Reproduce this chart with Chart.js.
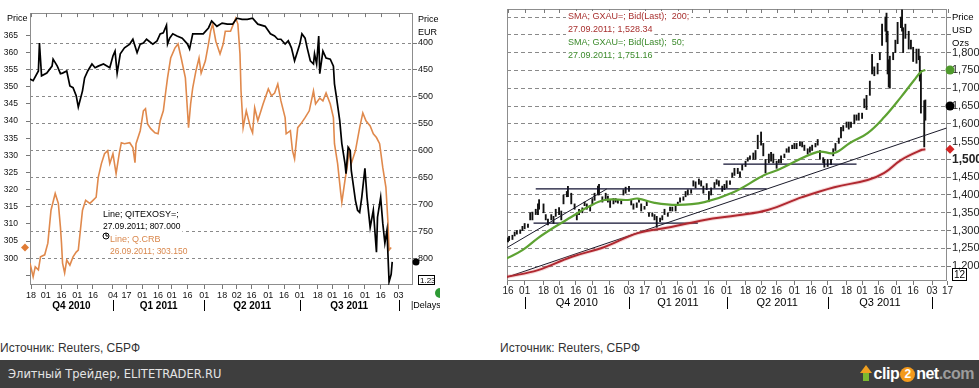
<!DOCTYPE html>
<html>
<head>
<meta charset="utf-8">
<script src="https://cdn.jsdelivr.net/npm/chart.js@4.4.1/dist/chart.umd.min.js"></script>
<style>
  html, body { margin:0; padding:0; background:#fff; }
  body { width:979px; height:388px; position:relative; overflow:hidden; font-family:"Liberation Sans", Arial, sans-serif; }
  #c1 { position:absolute; left:0; top:0; }
  #c2 { position:absolute; left:495px; top:0; }
  .src { position:absolute; top:340px; font-size:12px; color:#333; line-height:16px; white-space:nowrap; }
  #footer { position:absolute; left:0; top:360px; width:979px; height:28px; background:#3e3e3e; }
  #footer .t { position:absolute; left:8px; top:7px; font-family:"DejaVu Sans", Verdana, sans-serif; font-size:11.5px; color:#e4e4e4; white-space:nowrap; }
  #logo { position:absolute; right:5px; top:5px; font-family:"Liberation Sans", Arial, sans-serif; font-weight:bold; font-size:16px; letter-spacing:-0.5px; white-space:nowrap; }
  #logo .arr { display:inline-block; position:relative; width:12px; height:16px; vertical-align:-2px; margin-right:2px; }
  #logo .arr:before { content:""; position:absolute; left:0; top:0; border-left:6px solid transparent; border-right:6px solid transparent; border-bottom:8px solid #f0a020; }
  #logo .arr:after { content:""; position:absolute; left:3px; top:8px; width:6px; height:8px; background:#7cb82f; }
  #logo .two { display:inline-block; width:15px; height:15px; border-radius:8px; background:#f39a1c; color:#fff; text-align:center; line-height:15px; font-size:12px; vertical-align:1px; margin:0 1px; }
</style>
</head>
<body>
<canvas id="c1" width="440" height="320" style="width:440px;height:320px"></canvas>
<canvas id="c2" width="484" height="320" style="width:484px;height:320px"></canvas>
<div class="src" style="left:0">Источник: Reuters, СБРФ</div>
<div class="src" style="left:500px">Источник: Reuters, СБРФ</div>
<div id="footer"><span class="t">Элитный Трейдер, ELITETRADER.RU</span>
<span id="logo"><span class="arr"></span><span style="color:#fff">clip</span><span class="two">2</span><span style="color:#fff">net</span><span style="color:#9c9c9c">.com</span></span></div>

<script>
// ================= LEFT CHART DATA (CRB vs iTraxx Crossover) =================
const leftTickDates = ['2010-10-18','2010-11-01','2010-11-16','2010-12-01','2010-12-16','2011-01-04','2011-01-17','2011-02-01','2011-02-16','2011-03-01','2011-03-16','2011-04-01','2011-04-18','2011-05-02','2011-05-16','2011-06-01','2011-06-16','2011-07-01','2011-07-18','2011-08-01','2011-08-16','2011-09-01','2011-09-16','2011-10-03'];
const leftQuarterStarts = ['2011-01-04','2011-04-01','2011-07-01','2011-10-03'];
const leftQuarterLabels = ['Q4 2010','Q1 2011','Q2 2011','Q3 2011'];
const crbAxisTicks = [295,300,305,310,315,320,325,330,335,340,345,350,355,360,365];
const eurAxisTicks = [400,450,500,550,600,650,700,750,800];

const crbDates = ['2010-10-17','2010-10-20','2010-10-22','2010-10-25','2010-10-27','2010-10-31','2010-11-03','2010-11-06','2010-11-10','2010-11-13','2010-11-15','2010-11-16','2010-11-17','2010-11-19','2010-11-21','2010-11-24','2010-11-27','2010-11-30','2010-12-02','2010-12-04','2010-12-06','2010-12-09','2010-12-13','2010-12-16','2010-12-19','2010-12-21','2010-12-24','2010-12-27','2010-12-30','2011-01-01','2011-01-04','2011-01-07','2011-01-10','2011-01-12','2011-01-15','2011-01-20','2011-01-23','2011-01-25','2011-01-26','2011-01-30','2011-02-02','2011-02-04','2011-02-06','2011-02-09','2011-02-13','2011-02-16','2011-02-18','2011-02-21','2011-02-23','2011-02-25','2011-02-28','2011-03-04','2011-03-07','2011-03-10','2011-03-14','2011-03-16','2011-03-17','2011-03-19','2011-03-21','2011-03-24','2011-03-27','2011-03-29','2011-04-02','2011-04-05','2011-04-07','2011-04-09','2011-04-12','2011-04-16','2011-04-19','2011-04-21','2011-04-26','2011-05-01','2011-05-03','2011-05-05','2011-05-06','2011-05-08','2011-05-11','2011-05-15','2011-05-17','2011-05-19','2011-05-22','2011-05-25','2011-05-27','2011-06-01','2011-06-04','2011-06-07','2011-06-10','2011-06-13','2011-06-17','2011-06-18','2011-06-22','2011-06-24','2011-06-26','2011-06-29','2011-07-02','2011-07-06','2011-07-10','2011-07-14','2011-07-16','2011-07-20','2011-07-23','2011-07-26','2011-07-30','2011-08-02','2011-08-03','2011-08-06','2011-08-09','2011-08-10','2011-08-13','2011-08-15','2011-08-17','2011-08-19','2011-08-23','2011-08-27','2011-08-30','2011-09-02','2011-09-06','2011-09-09','2011-09-12','2011-09-15','2011-09-18','2011-09-21','2011-09-23','2011-09-24','2011-09-26'];
const crbValues = [298.6,294.6,297.5,296.6,300.4,301,304.4,314,318.9,316,309,304.4,298.6,295.7,299.5,298,300.4,301.8,302.4,308.2,314,316.9,316,316.9,317.8,323.6,327.6,330.5,331.4,327.6,330.5,324.7,330.5,333.7,333.4,333.7,332.3,327.9,333.4,337.2,343,343.6,339.2,337.8,336.6,336.3,340.1,343,347.9,352.6,358.4,361.3,362.5,358.4,352.6,343,338.1,345,349.7,354.6,358.4,354,357.5,362.5,366.2,368.3,363.3,359.6,362.5,366.2,366.2,370,368.3,359.6,348.8,338.1,343,338.1,336.6,343.9,340.1,343,345,349.4,347.4,348.2,350.8,345.9,341,336.3,337.2,331.4,329,338.1,339.2,341,343,348.8,345,346.7,345.9,348.2,345,341,333.4,327.6,318.9,316.3,322.7,326.5,331.4,327.6,331.4,338.1,342.4,340.1,338.6,336.3,335.2,333.4,326.5,320.7,310.2,302.4,303.15];

const xoverDates = ['2010-10-17','2010-10-20','2010-10-25','2010-10-26','2010-10-28','2010-11-02','2010-11-07','2010-11-08','2010-11-12','2010-11-15','2010-11-17','2010-11-21','2010-11-24','2010-11-27','2010-11-30','2010-12-02','2010-12-06','2010-12-08','2010-12-11','2010-12-15','2010-12-18','2010-12-21','2010-12-26','2011-01-01','2011-01-04','2011-01-06','2011-01-08','2011-01-11','2011-01-15','2011-01-20','2011-01-23','2011-01-27','2011-01-30','2011-02-02','2011-02-05','2011-02-11','2011-02-15','2011-02-18','2011-02-21','2011-02-24','2011-02-25','2011-02-27','2011-03-02','2011-03-06','2011-03-11','2011-03-16','2011-03-18','2011-03-21','2011-03-26','2011-03-31','2011-04-05','2011-04-08','2011-04-13','2011-04-18','2011-04-23','2011-04-28','2011-05-02','2011-05-07','2011-05-12','2011-05-17','2011-05-22','2011-05-29','2011-06-03','2011-06-07','2011-06-10','2011-06-13','2011-06-17','2011-06-20','2011-06-23','2011-06-26','2011-07-01','2011-07-03','2011-07-06','2011-07-08','2011-07-11','2011-07-14','2011-07-15','2011-07-17','2011-07-19','2011-07-20','2011-07-23','2011-07-26','2011-07-30','2011-08-02','2011-08-03','2011-08-05','2011-08-08','2011-08-10','2011-08-13','2011-08-14','2011-08-16','2011-08-18','2011-08-19','2011-08-23','2011-08-25','2011-08-27','2011-08-29','2011-09-01','2011-09-03','2011-09-06','2011-09-09','2011-09-12','2011-09-13','2011-09-16','2011-09-18','2011-09-20','2011-09-22','2011-09-24','2011-09-26','2011-09-27'];
const xoverValues = [467,470,452,400,461,456,443,430,443,457,456,452,480,483,498,519,489,465,452,439,446,443,439,446,424,415,456,420,409,402,393,418,402,400,393,402,396,383,381,367,402,391,383,387,391,402,411,383,383,383,372,359,369,363,365,365,354,356,356,354,365,369,383,387,393,393,402,396,409,433,402,383,391,409,433,439,420,439,387,457,415,428,430,443,476,502,544,587,624,643,594,600,637,693,711,715,687,633,687,743,711,789,724,687,735,772,748,844,830,807];

// ================= RIGHT CHART DATA (Gold, GXAU=) =================
const rightTickDates = ['2010-09-16','2010-10-01','2010-10-18','2010-11-01','2010-11-16','2010-12-01','2010-12-16','2011-01-03','2011-01-17','2011-02-01','2011-02-16','2011-03-01','2011-03-16','2011-04-01','2011-04-18','2011-05-02','2011-05-16','2011-06-01','2011-06-16','2011-07-01','2011-07-18','2011-08-01','2011-08-16','2011-09-01','2011-09-16','2011-10-03','2011-10-17'];
const rightQuarterStarts = ['2010-10-01','2011-01-03','2011-04-01','2011-07-01','2011-10-03'];
const rightQuarterLabels = ['Q4 2010','Q1 2011','Q2 2011','Q3 2011'];
const usdAxisTicks = [1200,1250,1300,1350,1400,1450,1500,1550,1600,1650,1700,1750,1800,1850,1900];

const goldDates = ['2010-09-16','2010-09-17','2010-09-20','2010-09-22','2010-09-24','2010-09-27','2010-09-29','2010-10-01','2010-10-04','2010-10-06','2010-10-08','2010-10-11','2010-10-13','2010-10-14','2010-10-18','2010-10-20','2010-10-22','2010-10-25','2010-10-27','2010-10-29','2010-11-01','2010-11-03','2010-11-05','2010-11-08','2010-11-09','2010-11-12','2010-11-15','2010-11-17','2010-11-19','2010-11-22','2010-11-24','2010-11-26','2010-11-29','2010-12-01','2010-12-03','2010-12-06','2010-12-07','2010-12-10','2010-12-13','2010-12-15','2010-12-17','2010-12-20','2010-12-22','2010-12-24','2010-12-27','2010-12-29','2010-12-31','2011-01-03','2011-01-05','2011-01-07','2011-01-10','2011-01-12','2011-01-14','2011-01-17','2011-01-19','2011-01-21','2011-01-24','2011-01-26','2011-01-28','2011-01-31','2011-02-02','2011-02-04','2011-02-07','2011-02-09','2011-02-11','2011-02-14','2011-02-16','2011-02-18','2011-02-21','2011-02-23','2011-02-25','2011-02-28','2011-03-02','2011-03-04','2011-03-07','2011-03-09','2011-03-11','2011-03-14','2011-03-16','2011-03-18','2011-03-21','2011-03-23','2011-03-25','2011-03-28','2011-03-30','2011-04-01','2011-04-04','2011-04-06','2011-04-08','2011-04-11','2011-04-13','2011-04-15','2011-04-18','2011-04-20','2011-04-22','2011-04-25','2011-04-27','2011-04-29','2011-05-02','2011-05-04','2011-05-06','2011-05-09','2011-05-11','2011-05-13','2011-05-16','2011-05-18','2011-05-20','2011-05-23','2011-05-25','2011-05-27','2011-05-30','2011-06-01','2011-06-03','2011-06-06','2011-06-08','2011-06-10','2011-06-13','2011-06-15','2011-06-17','2011-06-20','2011-06-22','2011-06-24','2011-06-27','2011-06-28','2011-07-01','2011-07-04','2011-07-06','2011-07-08','2011-07-11','2011-07-13','2011-07-15','2011-07-18','2011-07-20','2011-07-22','2011-07-25','2011-07-27','2011-07-29','2011-08-01','2011-08-03','2011-08-05','2011-08-08','2011-08-10','2011-08-12','2011-08-15','2011-08-17','2011-08-19','2011-08-22','2011-08-23','2011-08-24','2011-08-25','2011-08-26','2011-08-29','2011-08-31','2011-09-02','2011-09-05','2011-09-06','2011-09-07','2011-09-09','2011-09-12','2011-09-14','2011-09-16','2011-09-19','2011-09-21','2011-09-22','2011-09-23','2011-09-26','2011-09-27'];
const goldLow = [1268,1272,1275,1285,1290,1292,1300,1305,1309,1330,1330,1345,1345,1360,1350,1330,1316,1330,1320,1340,1345,1330,1375,1395,1395,1375,1360,1330,1345,1350,1370,1360,1355,1375,1385,1400,1400,1380,1385,1380,1365,1375,1380,1377,1375,1400,1405,1410,1372,1360,1365,1380,1355,1360,1370,1340,1340,1330,1309,1325,1330,1345,1340,1355,1355,1355,1370,1380,1385,1395,1400,1405,1425,1420,1430,1425,1405,1415,1381,1400,1420,1430,1425,1410,1415,1420,1430,1450,1455,1460,1450,1470,1480,1495,1500,1500,1500,1530,1540,1510,1462,1490,1495,1490,1475,1490,1490,1505,1520,1520,1530,1530,1530,1538,1535,1525,1515,1520,1525,1535,1540,1500,1490,1478,1480,1485,1510,1525,1545,1560,1580,1590,1585,1590,1600,1610,1610,1615,1645,1640,1680,1740,1735,1740,1780,1820,1860,1830,1740,1703,1700,1780,1800,1825,1870,1860,1800,1840,1810,1810,1775,1770,1780,1720,1630,1535,1610];
const goldHigh = [1280,1284,1287,1296,1300,1302,1312,1320,1318,1350,1352,1360,1375,1387,1375,1345,1332,1345,1340,1360,1365,1355,1400,1410,1424,1405,1375,1350,1360,1364,1380,1375,1370,1390,1405,1425,1430,1395,1405,1397,1385,1390,1390,1385,1385,1415,1422,1424,1385,1375,1378,1390,1375,1368,1385,1350,1350,1345,1340,1335,1342,1360,1350,1366,1366,1370,1380,1392,1395,1410,1415,1415,1440,1437,1445,1440,1425,1432,1410,1420,1435,1443,1440,1425,1430,1440,1440,1462,1475,1475,1465,1485,1495,1505,1510,1518,1525,1568,1577,1545,1500,1515,1520,1515,1495,1500,1510,1515,1530,1535,1540,1545,1545,1550,1548,1540,1530,1535,1540,1545,1556,1525,1505,1500,1500,1500,1530,1545,1560,1590,1595,1605,1605,1605,1625,1625,1630,1630,1670,1680,1720,1795,1760,1770,1800,1880,1900,1911,1860,1780,1790,1800,1835,1885,1900,1920,1870,1880,1860,1835,1815,1810,1810,1790,1750,1665,1667];

const sma50Dates = ['2010-09-15','2010-09-29','2010-10-13','2010-10-28','2010-11-12','2010-11-27','2010-12-12','2011-01-02','2011-01-11','2011-01-26','2011-02-16','2011-03-12','2011-04-06','2011-05-05','2011-05-17','2011-06-22','2011-07-07','2011-07-21','2011-08-06','2011-08-21','2011-09-05','2011-09-17','2011-09-23','2011-09-27'];
const sma50Values = [1222,1245,1279,1310,1338,1366,1386,1386,1390,1378,1372,1380,1406,1456,1470,1521,1518,1546,1574,1619,1675,1723,1746,1751.16];
const sma200Dates = ['2010-09-15','2010-10-13','2010-11-12','2010-12-12','2011-01-11','2011-02-10','2011-03-12','2011-04-11','2011-05-08','2011-06-08','2011-07-07','2011-08-06','2011-08-21','2011-09-05','2011-09-24','2011-09-27'];
const sma200Values = [1170,1189,1226,1254,1293,1310,1330,1343,1358,1394,1422,1442,1462,1498,1527,1528.34];

// analyst trend lines: [start date, end date] and [start value, end value]
const supportLongDates = ['2010-09-15','2011-10-16'];    const supportLongValues = [1169,1588];
const supportShortDates = ['2010-09-15','2010-12-14'];   const supportShortValues = [1252,1417];
const rangeTopDates = ['2010-10-11','2011-05-07'];       const rangeTopValues = [1417,1417];
const rangeBottomDates = ['2010-10-09','2011-03-06'];    const rangeBottomValues = [1321,1321];
const resistDates = ['2011-03-29','2011-07-27'];         const resistValues = [1487,1487];
const lastGoldPrice = 1650;

// ================= helpers =================
const FONT = '"Liberation Sans", Arial, sans-serif';
const NARROW = '"Liberation Sans Narrow", "Liberation Sans", Arial, sans-serif';
const day = s => Date.UTC(+s.slice(0,4), +s.slice(5,7)-1, +s.slice(8,10)) / 864e5;
const dayLabel = v => String(new Date(Math.round(v)*864e5).getUTCDate()).padStart(2,'0');
const pts = (dates, vals) => dates.map((d,i) => ({x: day(d), y: vals[i]}));
const fmt = (v, dec) => v.toLocaleString('en-US', {minimumFractionDigits:dec, maximumFractionDigits:dec});

function textBg(ctx, txt, x, y, color, font) {
  ctx.font = font;
  const w = ctx.measureText(txt).width;
  ctx.fillStyle = '#fff';
  ctx.fillRect(x - 2, y - 6, w + 4, 12);
  ctx.fillStyle = color;
  ctx.fillText(txt, x, y);
}
function diamond(ctx, x, y, r, color) {
  ctx.beginPath(); ctx.moveTo(x, y - r); ctx.lineTo(x + r, y); ctx.lineTo(x, y + r); ctx.lineTo(x - r, y); ctx.closePath();
  ctx.fillStyle = color; ctx.fill();
}
function dot(ctx, x, y, r, color) {
  ctx.beginPath(); ctx.arc(x, y, r, 0, Math.PI*2); ctx.fillStyle = color; ctx.fill();
}
function frameAndTopTicks(chart) {
  const {ctx, chartArea:a, scales:{x}} = chart;
  ctx.save();
  ctx.strokeStyle = '#8d8d8d'; ctx.lineWidth = 1;
  ctx.strokeRect(Math.round(a.left) + 0.5, Math.round(a.top) + 0.5, Math.round(a.right - a.left) - 1, Math.round(a.bottom - a.top) - 1);
  ctx.strokeStyle = '#7a7a7a';
  ctx.beginPath();
  x.ticks.forEach(t => { const px = Math.round(x.getPixelForValue(t.value)) + 0.5; ctx.moveTo(px, a.top); ctx.lineTo(px, a.top + 4); });
  ctx.stroke();
  ctx.restore();
}
function quarters(chart, starts, labels, sepTop, sepBot, labY, font) {
  const {ctx, chartArea:a, scales:{x}} = chart;
  const px = starts.map(d => x.getPixelForValue(day(d)));
  ctx.save();
  ctx.strokeStyle = '#000'; ctx.lineWidth = 1;
  ctx.beginPath();
  px.forEach(p => { const q = Math.round(p) + 0.5; ctx.moveTo(q, sepTop); ctx.lineTo(q, sepBot); });
  ctx.stroke();
  ctx.font = font; ctx.fillStyle = '#000'; ctx.textAlign = 'center'; ctx.textBaseline = 'middle';
  const edges = px.length > labels.length ? px : [a.left].concat(px);
  labels.forEach((l, i) => ctx.fillText(l, (edges[i] + edges[i+1]) / 2, labY));
  ctx.restore();
}

// ================= LEFT CHART =================
const L_MIN = day('2010-10-17'), L_MAX = L_MIN + 364.8;
const leftExtras = {
  id: 'leftExtras',
  beforeDatasetsDraw(chart) {
    frameAndTopTicks(chart);
  },
  afterDraw(chart) {
    const {ctx, scales:{yL, yR}} = chart;
    ctx.save();
    ctx.textBaseline = 'middle'; ctx.textAlign = 'left';
    const f9 = '9px ' + FONT;
    const lastX = xoverValues[xoverValues.length-1], lastC = crbValues[crbValues.length-1];
    textBg(ctx, 'Line; QITEXOSY=;', 103, 215, '#000', f9);
    textBg(ctx, '27.09.2011; ' + lastX.toFixed(3), 103, 227, '#000', '8.5px ' + FONT);
    textBg(ctx, 'Line; Q.CRB', 110, 240, '#d9874c', f9);
    textBg(ctx, '26.09.2011; ' + lastC.toFixed(3), 110, 252, '#d9874c', '8.5px ' + FONT);
    ctx.strokeStyle = '#000'; ctx.lineWidth = 1;
    ctx.beginPath(); ctx.arc(106, 236, 3, 0, Math.PI*2); ctx.stroke();
    ctx.beginPath(); ctx.moveTo(106, 233); ctx.lineTo(106, 236); ctx.lineTo(108, 236); ctx.stroke();
    // axis titles
    ctx.fillStyle = '#000'; ctx.font = f9;
    ctx.fillText('Price', 7, 19);
    ctx.fillText('Price', 418, 20);
    ctx.fillText('EUR', 418, 33);
    // last value markers
    diamond(ctx, 25, yL.getPixelForValue(lastC), 4, '#e07b34');
    dot(ctx, 416, yR.getPixelForValue(lastX), 3.5, '#000');
    // small boxes / status
    ctx.strokeStyle = '#000'; ctx.strokeRect(418.5, 275.5, 16, 9);
    ctx.font = '8px ' + FONT; ctx.fillStyle = '#000'; ctx.fillText('1.23', 420, 280.5);
    ctx.font = f9; ctx.fillText('|Delays', 411, 306);
    dot(ctx, 440, 293, 5, '#2d9a35');
    ctx.restore();
    quarters(chart, leftQuarterStarts, leftQuarterLabels, 300, 311, 306, 'bold 10px ' + FONT);
  }
};

new Chart(document.getElementById('c1'), {
  type: 'line',
  data: { datasets: [
    { label: 'Line; QITEXOSY=', data: pts(xoverDates, xoverValues), yAxisID: 'yR', xAxisID: 'x',
      borderColor: '#000', borderWidth: 1.7, pointRadius: 0, tension: 0, order: 0 },
    { label: 'Line; Q.CRB', data: pts(crbDates, crbValues), yAxisID: 'yL', xAxisID: 'x',
      borderColor: '#e0894c', borderWidth: 1.6, pointRadius: 0, tension: 0, order: 1 }
  ]},
  options: {
    responsive: false, animation: false, devicePixelRatio: 1,
    layout: { padding: { top: 12, left: 0, right: 0, bottom: 0 } },
    plugins: { legend: { display: false }, tooltip: { enabled: false } },
    scales: {
      x: { type: 'linear', position: 'bottom', min: L_MIN, max: L_MAX, offset: false,
        afterBuildTicks: s => { s.ticks = leftTickDates.map(d => ({ value: day(d) })); },
        afterFit: s => { s.height = 35; },
        ticks: { autoSkip: false, maxRotation: 0, minRotation: 0, padding: 1, color: '#111', font: { family: FONT, size: 9 }, callback: v => dayLabel(v) },
        grid: { drawOnChartArea: false, drawTicks: true, tickLength: 4, color: '#777' },
        border: { display: false } },
      yL: { type: 'linear', position: 'left', min: 292.2, max: 371.5,
        afterBuildTicks: s => { s.ticks = crbAxisTicks.map(v => ({ value: v })); },
        afterFit: s => { s.width = 30; },
        ticks: { padding: 8, color: '#111', font: { family: NARROW, size: 8.5 }, callback: v => v === 295 ? '' : String(v) },
        grid: { drawOnChartArea: false, drawTicks: true, tickLength: 4, color: '#777' },
        border: { display: false } },
      yR: { type: 'linear', position: 'right', reverse: true, min: 344.4, max: 850,
        afterBuildTicks: s => { s.ticks = eurAxisTicks.map(v => ({ value: v })); },
        afterFit: s => { s.width = 27; },
        ticks: { padding: 1, color: '#111', font: { family: FONT, size: 9 }, callback: v => String(v) },
        grid: { drawOnChartArea: true, color: '#8a8a8a', tickColor: '#777', tickLength: 4 },
        border: { display: false, dash: [3, 3] } }
    }
  },
  plugins: [leftExtras]
});

// ================= RIGHT CHART =================
const R_MIN = day('2010-09-16') - 0.9, R_MAX = day('2010-09-16') + 395.5;
const rightExtras = {
  id: 'rightExtras',
  beforeDatasetsDraw(chart) {
    frameAndTopTicks(chart);
  },
  afterDraw(chart) {
    const {ctx, scales:{y}} = chart;
    ctx.save();
    ctx.textBaseline = 'middle'; ctx.textAlign = 'left';
    const f9 = '9px ' + FONT;
    const s200 = sma200Values[sma200Values.length-1], s50 = sma50Values[sma50Values.length-1];
    textBg(ctx, 'SMA; GXAU=; Bid(Last);  200;', 73, 17, '#a8302f', f9);
    textBg(ctx, '27.09.2011; ' + fmt(s200, 2), 73, 30, '#a8302f', f9);
    textBg(ctx, 'SMA; GXAU=; Bid(Last);  50;', 73, 43, '#3c8a2c', f9);
    textBg(ctx, '27.09.2011; ' + fmt(s50, 2), 73, 56, '#3c8a2c', f9);
    ctx.fillStyle = '#000'; ctx.font = '9.5px ' + FONT;
    ctx.fillText('Price', 457, 17);
    ctx.fillText('USD', 457, 30);
    ctx.fillText('Ozs', 457, 43);
    dot(ctx, 455, y.getPixelForValue(s50), 4.5, '#4f9a2c');
    dot(ctx, 455, y.getPixelForValue(lastGoldPrice), 4.5, '#000');
    diamond(ctx, 455, y.getPixelForValue(s200), 4.5, '#d42424');
    ctx.strokeStyle = '#000'; ctx.lineWidth = 1; ctx.strokeRect(457.5, 268.5, 14, 12);
    ctx.font = '10px ' + FONT; ctx.fillStyle = '#000'; ctx.fillText('12', 459, 275);
    ctx.restore();
    quarters(chart, rightQuarterStarts, rightQuarterLabels, 297, 309, 303, '11px ' + FONT);
  }
};

const lineDs = (label, data, color, width, order, tension) => ({
  type: 'line', label, data, borderColor: color, borderWidth: width, pointRadius: 0, tension: tension || 0, order, fill: false
});

new Chart(document.getElementById('c2'), {
  type: 'bar',
  data: { datasets: [
    lineDs('SMA 50', pts(sma50Dates, sma50Values), '#5da232', 2.2, 1, 0.4),
    lineDs('SMA 200', pts(sma200Dates, sma200Values), '#b02830', 2, 2, 0.4),
    lineDs('SMA 200 halo', pts(sma200Dates, sma200Values), 'rgba(215,95,95,0.25)', 4, 3, 0.4),
    lineDs('Support long', pts(supportLongDates, supportLongValues), '#1a1a2a', 1, 4),
    lineDs('Support short', pts(supportShortDates, supportShortValues), '#1a1a2a', 1, 4),
    lineDs('Range top', pts(rangeTopDates, rangeTopValues), '#101030', 1.3, 4),
    lineDs('Range bottom', pts(rangeBottomDates, rangeBottomValues), '#101030', 1.3, 4),
    lineDs('Resistance', pts(resistDates, resistValues), '#101030', 1.3, 4),
    { type: 'bar', label: 'GXAU=', data: goldDates.map((d, i) => ({ x: day(d), y: [goldLow[i], goldHigh[i]] })),
      backgroundColor: '#111', borderWidth: 0, barThickness: 1.2, grouped: false, order: 5 }
  ]},
  options: {
    responsive: false, animation: false, devicePixelRatio: 1,
    layout: { padding: { top: 9, left: 12, right: 0, bottom: 0 } },
    plugins: { legend: { display: false }, tooltip: { enabled: false } },
    scales: {
      x: { type: 'linear', position: 'bottom', min: R_MIN, max: R_MAX, offset: false,
        afterBuildTicks: s => { s.ticks = rightTickDates.map(d => ({ value: day(d) })); },
        afterFit: s => { s.height = 39; },
        ticks: { autoSkip: false, maxRotation: 0, minRotation: 0, padding: 0, color: '#222', font: { family: FONT, size: 10 }, callback: v => dayLabel(v) },
        grid: { offset: false, drawOnChartArea: false, drawTicks: true, tickLength: 4, color: '#777' },
        border: { display: false } },
      y: { type: 'linear', position: 'right', min: 1158.4, max: 1922.5, beginAtZero: false,
        afterBuildTicks: s => { s.ticks = usdAxisTicks.map(v => ({ value: v })); },
        afterFit: s => { s.width = 32; },
        ticks: { padding: 1, color: '#222',
          font: c => ({ family: FONT, size: (c.tick && c.tick.value === 1500) ? 12 : 11, weight: (c.tick && c.tick.value === 1500) ? 'bold' : 'normal' }),
          callback: v => v <= 1800 ? fmt(v, 0) : '' },
        grid: { drawOnChartArea: true, color: '#8a8a8a', tickColor: '#777', tickLength: 4 },
        border: { display: false, dash: [4, 3] } }
    }
  },
  plugins: [rightExtras]
});
</script>
</body>
</html>
